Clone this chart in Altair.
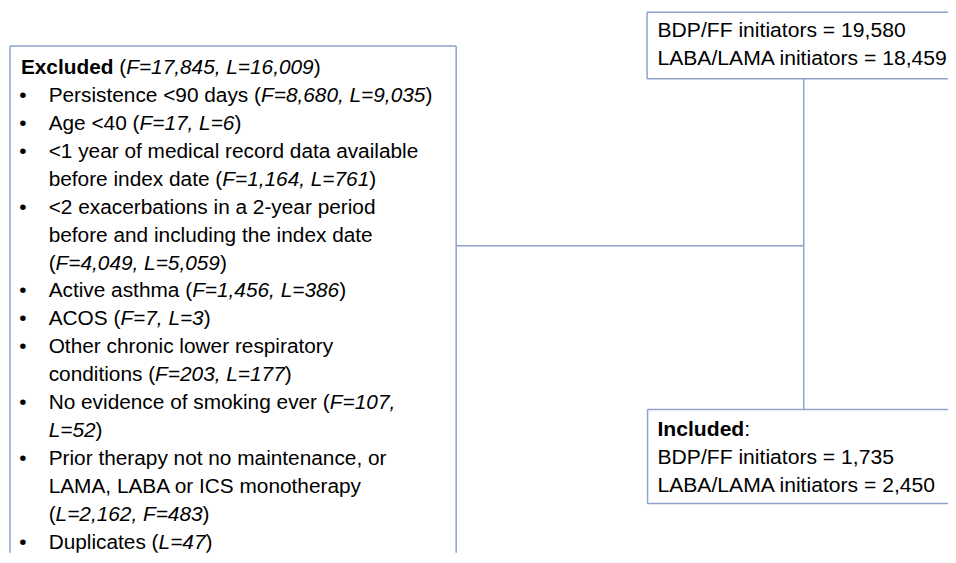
import re
import altair as alt
import pandas as pd

# ---------------- content ----------------
excluded_lines = [
    "**Excluded** (*F=17,845, L=16,009*)",
    "Persistence <90 days (*F=8,680, L=9,035*)",
    "Age <40 (*F=17, L=6*)",
    "<1 year of medical record data available",
    "before index date (*F=1,164, L=761*)",
    "<2 exacerbations in a 2-year period",
    "before and including the index date",
    "(*F=4,049, L=5,059*)",
    "Active asthma (*F=1,456, L=386*)",
    "ACOS (*F=7, L=3*)",
    "Other chronic lower respiratory",
    "conditions (*F=203, L=177*)",
    "No evidence of smoking ever (*F=107,*",
    "*L=52*)",
    "Prior therapy not no maintenance, or",
    "LAMA, LABA or ICS monotherapy",
    "(*L=2,162, F=483*)",
    "Duplicates (*L=47*)",
]
excluded_bullet = [False, True, True, True, False, True, False, False, True,
                   True, True, False, True, False, True, False, False, True]
excluded_indent = [False] + [True] * 17

initiator_lines = ["BDP/FF initiators = 19,580", "LABA/LAMA initiators = 18,459"]
included_lines = ["**Included**:", "BDP/FF initiators = 1,735", "LABA/LAMA initiators = 2,450"]

# ---------------- layout ----------------
W, H = 948, 547
X0, Y0 = 8, 8
FS = 21
FS_RIGHT = 21.3
FONT = "Liberation Sans"
LINE_COLOR = "#8EA2CB"

REG = {' ': 278, '(': 333, ')': 333, ',': 278, '-': 333, '.': 278, '/': 278, ':': 278,
       '<': 584, '=': 584, '>': 584, '•': 350,
       'A': 667, 'B': 667, 'C': 722, 'D': 722, 'E': 667, 'F': 611, 'G': 778, 'H': 722,
       'I': 278, 'J': 500, 'K': 667, 'L': 556, 'M': 833, 'N': 722, 'O': 778, 'P': 667,
       'Q': 778, 'R': 722, 'S': 667, 'T': 611, 'U': 722, 'V': 667, 'W': 944, 'X': 667,
       'Y': 667, 'Z': 611,
       'a': 556, 'b': 556, 'c': 500, 'd': 556, 'e': 556, 'f': 278, 'g': 556, 'h': 556,
       'i': 222, 'j': 222, 'k': 500, 'l': 222, 'm': 833, 'n': 556, 'o': 556, 'p': 556,
       'q': 556, 'r': 333, 's': 500, 't': 278, 'u': 556, 'v': 500, 'w': 722, 'x': 500,
       'y': 500, 'z': 500}
for d in "0123456789":
    REG[d] = 556
BOLD = dict(REG)
BOLD.update({'E': 667, 'x': 556, 'c': 556, 'l': 278, 'u': 611, 'd': 611, 'e': 556,
             'I': 278, 'n': 611, ':': 333, ' ': 278})


def text_width(t, bold, fs):
    table = BOLD if bold else REG
    return sum(table.get(ch, 556) for ch in t) * fs / 1000.0


def layout(markup, x, y, fs):
    out = []
    for tok in re.split(r'(\*\*[^*]+\*\*|\*[^*]+\*)', markup):
        if not tok:
            continue
        if tok.startswith('**'):
            style, t = 'bold', tok[2:-2]
        elif tok.startswith('*'):
            style, t = 'italic', tok[1:-1]
        else:
            style, t = 'normal', tok
        lead = len(t) - len(t.lstrip(' '))
        s = t.strip(' ')
        if s:
            out.append(dict(x=x + text_width(' ' * lead, style == 'bold', fs), y=y, t=s,
                            s=style, fs=fs))
        x += text_width(t, style == 'bold', fs)
    return out


segs = []
LEFT_BASE0, LINE_H = 72.0, 28.2
for i, line in enumerate(excluded_lines):
    y = LEFT_BASE0 + i * LINE_H
    segs += layout(line, 49 if excluded_indent[i] else 21, y, FS)
    if excluded_bullet[i]:
        segs.append(dict(x=23, y=y, t='•', s='bullet', fs=FS))
for i, line in enumerate(initiator_lines):
    segs += layout(line, 663, 35 + i * 28, FS_RIGHT)
for i, line in enumerate(included_lines):
    segs += layout(line, 663, 437 + i * 28.5, FS_RIGHT)

seg_df = pd.DataFrame(segs)

# box outlines (boxes on the right run off the page) and connectors
lines = pd.DataFrame([
    # excluded box
    dict(x=10, x2=10, y=44, y2=800),
    dict(x=10, x2=460, y=44, y2=44),
    dict(x=460, x2=460, y=44, y2=800),
    # initiators box
    dict(x=652.5, x2=652.5, y=10, y2=77),
    dict(x=652.5, x2=1200, y=10, y2=10),
    dict(x=652.5, x2=1200, y=77, y2=77),
    # included box
    dict(x=653, x2=653, y=410.5, y2=505.5),
    dict(x=653, x2=1200, y=410.5, y2=410.5),
    dict(x=653, x2=1200, y=505.5, y2=505.5),
    # connectors
    dict(x=810.5, x2=810.5, y=77, y2=410.5),
    dict(x=460, x2=810.5, y=245.5, y2=245.5),
])

xs = alt.Scale(domain=[X0, X0 + W], nice=False, zero=False)
ys = alt.Scale(domain=[Y0, Y0 + H], nice=False, zero=False, reverse=True)

line_layer = alt.Chart(lines).mark_rule(
    color=LINE_COLOR, strokeWidth=1.5, clip=True
).encode(
    x=alt.X('x:Q', scale=xs, axis=None), x2='x2:Q',
    y=alt.Y('y:Q', scale=ys, axis=None), y2='y2:Q',
)


def text_layer(style, fs, **kw):
    sub = seg_df[(seg_df.s == style) & (seg_df.fs == fs)]
    return alt.Chart(sub).mark_text(
        align='center' if style == 'bullet' else 'left', baseline='alphabetic',
        font=FONT, fontSize=fs, color='#000000', clip=True, **kw
    ).encode(
        x=alt.X('x:Q', scale=xs, axis=None),
        y=alt.Y('y:Q', scale=ys, axis=None),
        text='t:N',
    )


chart = alt.layer(
    line_layer,
    text_layer('normal', FS),
    text_layer('italic', FS, fontStyle='italic'),
    text_layer('bold', FS, fontWeight='bold'),
    text_layer('bullet', FS),
    text_layer('normal', FS_RIGHT),
    text_layer('bold', FS_RIGHT, fontWeight='bold'),
).properties(
    width=W, height=H, padding=0, autosize='none', background='white'
).configure_view(stroke=None)

chart.save("out.html", embed_options={"renderer": "svg", "actions": False})
